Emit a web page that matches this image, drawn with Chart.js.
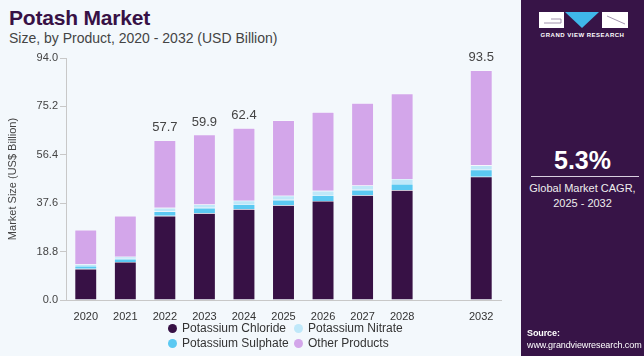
<!DOCTYPE html>
<html>
<head>
<meta charset="utf-8">
<script src="https://cdn.jsdelivr.net/npm/chart.js@4.4.1/dist/chart.umd.min.js"></script>
<style>
  html, body { margin:0; padding:0; }
  body { width:644px; height:356px; background:#f3f8fc; position:relative; overflow:hidden; font-family:"Liberation Sans", Arial, sans-serif; }
  #title { position:absolute; left:9px; top:6px; font-size:21px; font-weight:bold; color:#371145; letter-spacing:-0.2px; }
  #subtitle { position:absolute; left:9px; top:30px; font-size:14px; color:#444; }
  #wrap { position:absolute; left:0; top:0; width:520px; height:356px; }
  #legend { position:absolute; left:168px; top:321px; font-size:12px; color:#333; line-height:15px; }
  #legend .it { position:absolute; white-space:nowrap; }
  #legend .dot { display:inline-block; width:9px; height:9px; border-radius:50%; margin-right:5px; vertical-align:-1px; }
  #panel { position:absolute; left:521px; top:0; width:123px; height:356px; background:#371447; color:#fff; }
  #cagr { position:absolute; left:0; width:123px; top:146px; text-align:center; font-size:25px; font-weight:bold; }
  #rule { position:absolute; left:10px; width:108px; top:176px; height:1px; background:#d9cfe0; }
  #cagrtxt { position:absolute; left:0; width:123px; top:181px; text-align:center; font-size:11px; line-height:15px; color:#eee; }
  #src { position:absolute; left:6px; top:327px; font-size:9px; line-height:12px; color:#fff; letter-spacing:-0.1px; }
  #gvr { position:absolute; left:0; width:123px; top:32px; text-align:center; font-size:6px; font-weight:bold; letter-spacing:0.5px; color:#fff; }
</style>
</head>
<body>
<div id="title">Potash Market</div>
<div id="subtitle">Size, by Product, 2020 - 2032 (USD Billion)</div>
<div id="wrap"><canvas id="c" width="520" height="356"></canvas></div>
<div id="legend"></div>
<div id="panel">
  <svg style="position:absolute;left:18px;top:12px" width="90" height="17">
    <rect x="0" y="0" width="25" height="16" fill="#fff"/>
    <path d="M5 11 H22 M12 7 H22 V11" stroke="#8a7a9a" stroke-width="0.8" fill="none"/>
    <polygon points="26,0 60,0 43,16" fill="#3fb7ea"/>
    <rect x="63" y="0" width="26" height="16" fill="#fff"/>
    <path d="M68 4 L86 12" stroke="#8a7a9a" stroke-width="0.8" fill="none"/>
  </svg>
  <div id="gvr">GRAND VIEW RESEARCH</div>
  <div id="cagr">5.3%</div>
  <div id="rule"></div>
  <div id="cagrtxt">Global Market CAGR,<br>2025 - 2032</div>
  <div id="src"><b>Source:</b><br>www.grandviewresearch.com</div>
</div>
<script>
const categories = ["2020","2021","2022","2023","2024","2025","2026","2027","2028","","2032"];
const potassiumChloride = [12.1, 14.8, 32.7, 33.7, 35.3, 36.8, 38.5, 40.7, 42.7, null, 47.9];
const potassiumSulphate = [1.1, 1.2, 1.7, 2.1, 1.9, 2.1, 2.2, 2.1, 2.4, null, 2.7];
const potassiumNitrate  = [0.7, 0.8, 1.4, 1.3, 1.4, 1.6, 1.7, 1.7, 1.9, null, 1.7];
const otherProducts     = [13.3, 15.9, 26.2, 27.1, 28.2, 29.3, 30.6, 32.0, 33.2, null, 36.9];
const totalLabels = ["", "", "57.7", "59.9", "62.4", "", "", "", "", "", "93.5"];
const yTicks = [0, 18.8, 37.6, 56.4, 75.2, 94.0];

const colors = {
  chloride: "#371145",
  sulphate: "#5bc9f2",
  nitrate: "#bfe8f9",
  other: "#d3a6ea"
};

const legendItems = [
  ["Potassium Chloride", colors.chloride, 0, 0],
  ["Potassium Nitrate", colors.nitrate, 126, 0],
  ["Potassium Sulphate", colors.sulphate, 0, 15],
  ["Other Products", colors.other, 126, 15]
];
const lg = document.getElementById("legend");
legendItems.forEach(([t, c, x, y]) => {
  const d = document.createElement("div");
  d.className = "it";
  d.style.left = x + "px"; d.style.top = y + "px";
  d.innerHTML = '<span class="dot" style="background:' + c + '"></span>' + t;
  lg.appendChild(d);
});

const topLabels = {
  id: "topLabels",
  afterDatasetsDraw(chart) {
    const ctx = chart.ctx;
    const meta = chart.getDatasetMeta(chart.data.datasets.length - 1);
    ctx.save();
    ctx.font = "13px 'Liberation Sans', Arial, sans-serif";
    ctx.fillStyle = "#444";
    ctx.textAlign = "center";
    ctx.textBaseline = "bottom";
    totalLabels.forEach((t, i) => {
      if (!t) return;
      const el = meta.data[i];
      ctx.fillText(t, el.x, el.y - 6);
    });
    ctx.restore();
  }
};

const mk = (label, data, color) => ({
  label, data, backgroundColor: color,
  borderColor: "rgba(255,255,255,0.5)", borderWidth: 0.6,
  barPercentage: 0.56, categoryPercentage: 1.0
});

new Chart(document.getElementById("c"), {
  type: "bar",
  data: {
    labels: categories,
    datasets: [
      mk("Potassium Chloride", potassiumChloride, colors.chloride),
      mk("Potassium Sulphate", potassiumSulphate, colors.sulphate),
      mk("Potassium Nitrate", potassiumNitrate, colors.nitrate),
      mk("Other Products", otherProducts, colors.other)
    ]
  },
  options: {
    responsive: false,
    animation: false,
    layout: { padding: { left: 6, top: 58, right: 19, bottom: 0 } },
    plugins: { legend: { display: false }, tooltip: { enabled: false } },
    scales: {
      x: {
        stacked: true,
        grid: { display: false },
        border: { display: true, color: "#c8c8c8", width: 1 },
        ticks: { color: "#333", font: { size: 11, family: "'Liberation Sans', Arial, sans-serif" }, padding: 2, autoSkip: false, maxRotation: 0 },
        afterFit(s) { s.height = 56; }
      },
      y: {
        stacked: true,
        min: 0, max: 94,
        afterBuildTicks(s) { s.ticks = yTicks.map(v => ({ value: v })); },
        grid: { drawOnChartArea: false, drawTicks: true, tickLength: 6, color: "#c8c8c8" },
        border: { display: true, color: "#c8c8c8", width: 1 },
        ticks: { color: "#444", font: { size: 11, family: "'Liberation Sans', Arial, sans-serif" }, padding: 2, callback: v => Number(v).toFixed(1) },
        title: { display: true, text: "Market Size (US$ Billion)", color: "#444", font: { size: 11, family: "'Liberation Sans', Arial, sans-serif" }, padding: { top: 0, bottom: 8 } },
        afterFit(s) { s.width = 60; }
      }
    }
  },
  plugins: [topLabels]
});
</script>
</body>
</html>
